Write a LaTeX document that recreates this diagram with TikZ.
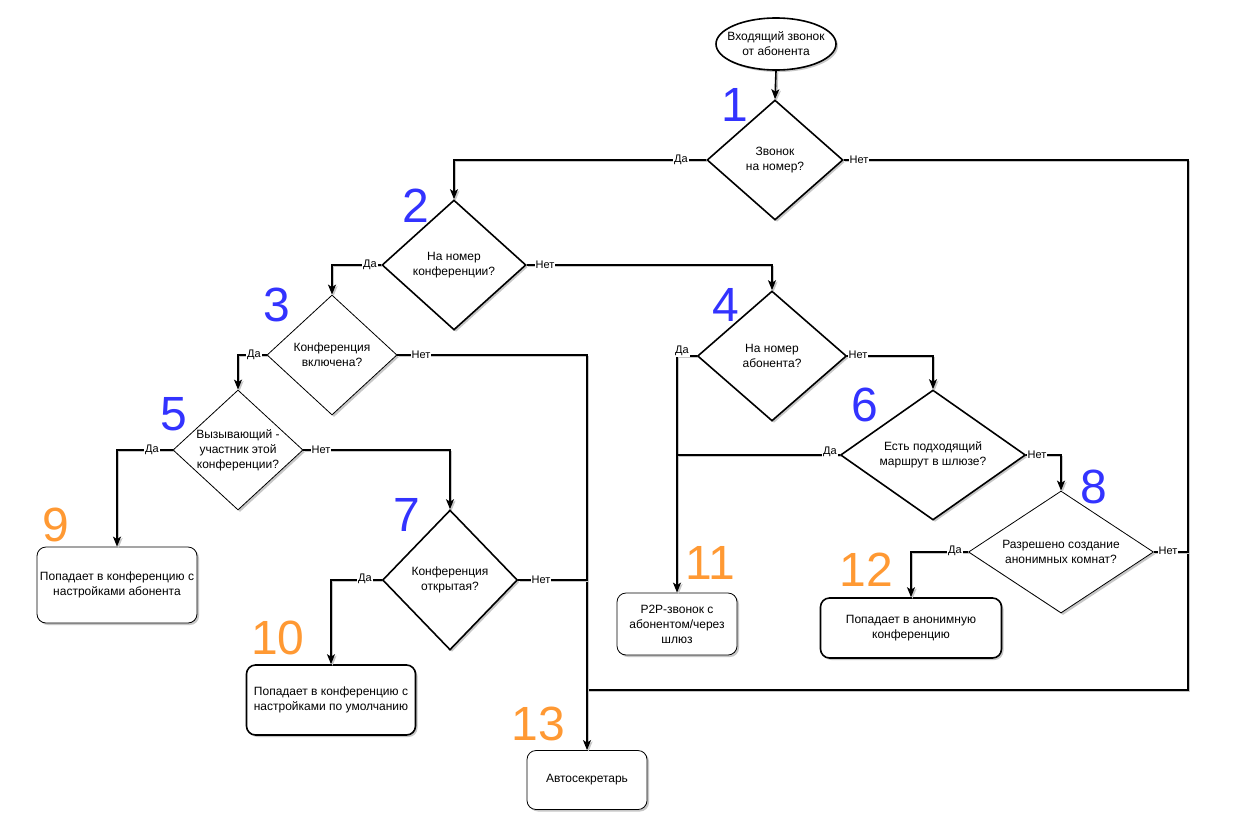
\documentclass[tikz,border=0pt]{standalone}
\usepackage{fontspec}
\setmainfont{Liberation Sans}
\usetikzlibrary{shapes.geometric,shadows,arrows.meta}
\definecolor{numblue}{RGB}{51,51,255}
\definecolor{numorange}{RGB}{255,153,51}
\begin{document}
\begin{tikzpicture}[x=1pt,y=-1pt,
  base/.style={draw=black, fill=white, align=center, inner sep=0pt,
    font=\fontsize{12}{15}\selectfont,
    drop shadow={shadow xshift=2pt, shadow yshift=-2pt, fill=black!22, opacity=1}},
  thk/.style={line width=1.6pt},
  thn/.style={line width=0.8pt},
  dia/.style={base, diamond},
  ell/.style={base, ellipse},
  box/.style={base, rectangle, rounded corners=9pt},
  lshd/.style={preaction={draw=black!22, line width=1.6pt, transform canvas={xshift=1.5pt, yshift=-1.5pt}}},
  ln/.style={draw=black, line width=1.6pt, lshd},
  arr/.style={ln, -{Stealth[length=10pt, width=8pt, inset=2.5pt]}},
  lbl/.style={fill=white, inner sep=0.8pt, font=\fontsize{11}{13}\selectfont},
  bnum/.style={text=numblue, font=\fontsize{48}{48}\selectfont, inner sep=0pt},
  onum/.style={text=numorange, font=\fontsize{48}{48}\selectfont, inner sep=0pt}
]
\useasboundingbox[fill=white] (0,0) rectangle (1233,835);

% nodes
\node[ell, thk, inner xsep=-9pt, inner ysep=0pt, minimum width=120pt, minimum height=52pt] (e) at (776,44) {Входящий звонок\\от абонента};
\node[dia, thk, aspect=1.13, minimum width=136pt, minimum height=120pt] (d1) at (775,160) {Звонок\\на номер?};
\node[dia, thk, aspect=1.1, minimum width=144pt, minimum height=130pt] (d2) at (454,265) {На номер\\конференции?};
\node[dia, thn, aspect=1.08, minimum width=130pt, minimum height=120pt] (d3) at (332,355) {Конференция\\включена?};
\node[dia, thk, aspect=1.14, minimum width=149pt, minimum height=130pt] (d4) at (772,356) {На номер\\абонента?};
\node[dia, thn, aspect=1.08, minimum width=130pt, minimum height=120pt] (d5) at (238,450) {Вызывающий -\\участник этой\\конференции?};
\node[dia, thk, aspect=1.42, minimum width=185pt, minimum height=130pt] (d6) at (933,455) {Есть подходящий\\маршрут в шлюзе?};
\node[dia, thk, aspect=0.96, minimum width=135pt, minimum height=140pt] (d7) at (450,580) {Конференция\\открытая?};
\node[dia, thn, aspect=1.5, minimum width=185pt, minimum height=122pt] (d8) at (1061,552) {Разрешено создание\\анонимных комнат?};
\node[box, thn, minimum width=160pt, minimum height=76pt] (b9) at (117,585) {Попадает в конференцию с\\настройками абонента};
\node[box, thk, minimum width=169pt, minimum height=70pt] (b10) at (331,700) {Попадает в конференцию с\\настройками по умолчанию};
\node[box, thn, minimum width=120pt, minimum height=62pt] (b11) at (677,624) {P2P-звонок с\\абонентом/через\\шлюз};
\node[box, thk, minimum width=181pt, minimum height=60pt] (b12) at (911,628) {Попадает в анонимную\\конференцию};
\node[box, thn, minimum width=120pt, minimum height=59pt] (b13) at (587,780) {Автосекретарь};

\coordinate (c1) at (1188,690);

% connectors
\draw[arr] (e.south) -- (d1.north);
\draw[arr] (d1.west) -| (d2.north);
\draw[ln] (d1.east) -| (c1) -- (c1 -| b13.north);
\draw[arr] (d2.west) -| (d3.north);
\draw[arr] (d2.east) -| (d4.north);
\draw[arr] (d3.east) -| (b13.north);
\draw[arr] (d3.west) -| (d5.north);
\draw[arr] (d5.west) -| (b9.north);
\draw[arr] (d5.east) -| (d7.north);
\draw[arr] (d7.west) -| (b10.north);
\draw[ln] (d7.east) -- (d7.east -| b13.north);
\draw[arr] (d4.west) -| (b11.north);
\draw[ln] (d6.west) -- (d6.west -| b11.north);
\draw[arr] (d4.east) -| (d6.north);
\draw[arr] (d6.east) -| (d8.north);
\draw[arr] (d8.west) -| (b12.north);
\draw[ln] (d8.east) -- (d8.east -| c1);

% edge labels
\node[lbl] (l1a) at (681,160) {Да};
\node[lbl] (l1b) at (859,160) {Нет};
\node[lbl] (l2a) at (370,265) {Да};
\node[lbl] (l2b) at (545,265) {Нет};
\node[lbl] (l3a) at (254,355) {Да};
\node[lbl] (l3b) at (421,355) {Нет};
\node[lbl] (l4a) at (682,351) {Да};
\node[lbl] (l4b) at (858,355) {Нет};
\node[lbl] (l5a) at (152,450) {Да};
\node[lbl] (l5b) at (321,450) {Нет};
\node[lbl] (l6a) at (830,452) {Да};
\node[lbl] (l6b) at (1037,455) {Нет};
\node[lbl] (l7a) at (365,579) {Да};
\node[lbl] (l7b) at (541,580) {Нет};
\node[lbl] (l8a) at (955,551) {Да};
\node[lbl] (l8b) at (1168,551) {Нет};

% numbers
\node[bnum] (n1) at (735,105) {1};
\node[bnum] (n2) at (416,206) {2};
\node[bnum] (n3) at (277,305) {3};
\node[bnum] (n4) at (726,305) {4};
\node[bnum] (n5) at (174,414) {5};
\node[bnum] (n6) at (865,405) {6};
\node[bnum] (n7) at (407,515) {7};
\node[bnum] (n8) at (1094,487) {8};
\node[onum] (n9) at (56,525) {9};
\node[onum] (n10) at (278,638) {10};
\node[onum] (n11) at (710,563) {11};
\node[onum] (n12) at (866,570) {12};
\node[onum] (n13) at (538,724) {13};
\end{tikzpicture}
\end{document}
